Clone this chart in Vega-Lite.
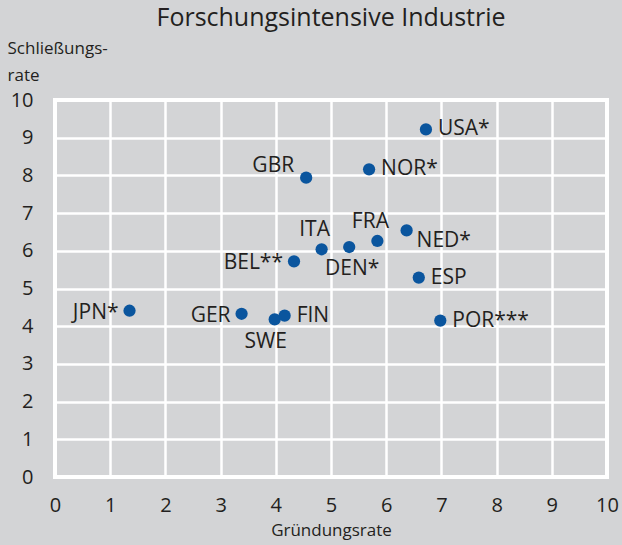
{
  "$schema": "https://vega.github.io/schema/vega-lite/v6.json",
  "autosize": {"type": "none"},
  "padding": {"left": 55, "top": 100, "right": 15, "bottom": 68},
  "width": 552,
  "height": 377,
  "background": "#d3d4d6",
  "title": {"text": "Forschungsintensive Industrie", "font": "Open Sans", "fontSize": 25, "fontWeight": "normal", "color": "#231f20", "anchor": "middle", "frame": "group", "baseline": "alphabetic", "offset": 10, "dy": 22},
  "data": {"values": [
    {"land": "USA*", "gruendung": 6.72, "schliessung": 9.22, "pos": "r"},
    {"land": "NOR*", "gruendung": 5.69, "schliessung": 8.16, "pos": "r"},
    {"land": "GBR", "gruendung": 4.55, "schliessung": 7.94, "pos": "ul"},
    {"land": "ITA", "gruendung": 4.83, "schliessung": 6.04, "pos": "u"},
    {"land": "FRA", "gruendung": 5.84, "schliessung": 6.26, "pos": "u"},
    {"land": "NED*", "gruendung": 6.37, "schliessung": 6.54, "pos": "dr"},
    {"land": "DEN*", "gruendung": 5.33, "schliessung": 6.10, "pos": "d"},
    {"land": "BEL**", "gruendung": 4.33, "schliessung": 5.72, "pos": "l"},
    {"land": "ESP", "gruendung": 6.59, "schliessung": 5.29, "pos": "r"},
    {"land": "JPN*", "gruendung": 1.35, "schliessung": 4.41, "pos": "l"},
    {"land": "GER", "gruendung": 3.38, "schliessung": 4.33, "pos": "l"},
    {"land": "SWE", "gruendung": 3.98, "schliessung": 4.18, "pos": "dl"},
    {"land": "FIN", "gruendung": 4.16, "schliessung": 4.28, "pos": "r"},
    {"land": "POR***", "gruendung": 6.98, "schliessung": 4.15, "pos": "r"}
  ]},
  "encoding": {
    "x": {"field": "gruendung", "type": "quantitative",
      "scale": {"domain": [0, 10], "nice": false},
      "axis": {"values": [0,1,2,3,4,5,6,7,8,9,10], "title": "Gründungsrate", "titleFontSize": 17, "titlePadding": 7, "labelPadding": 18, "labelFlush": false}},
    "y": {"field": "schliessung", "type": "quantitative",
      "scale": {"domain": [0, 10], "nice": false},
      "axis": {"values": [0,1,2,3,4,5,6,7,8,9,10], "title": ["Schließungs-", "rate"], "titleAngle": 0, "titleAlign": "left", "titleBaseline": "alphabetic", "titleX": -48, "titleY": -47, "titleFontSize": 17, "titleLineHeight": 27, "labelPadding": 22, "labelFlush": false}}
  },
  "layer": [
    {"mark": {"type": "circle", "size": 150, "color": "#0a559e", "opacity": 1}},
    {"transform": [{"filter": "datum.pos == 'r'"}], "mark": {"type": "text", "align": "left", "baseline": "middle", "dx": 12, "dy": 0, "fontSize": 21, "color": "#231f20"}, "encoding": {"text": {"field": "land"}}},
    {"transform": [{"filter": "datum.pos == 'l'"}], "mark": {"type": "text", "align": "right", "baseline": "middle", "dx": -11, "dy": 2, "fontSize": 21, "color": "#231f20"}, "encoding": {"text": {"field": "land"}}},
    {"transform": [{"filter": "datum.pos == 'ul'"}], "mark": {"type": "text", "align": "right", "baseline": "middle", "dx": -12, "dy": -12, "fontSize": 21, "color": "#231f20"}, "encoding": {"text": {"field": "land"}}},
    {"transform": [{"filter": "datum.pos == 'u'"}], "mark": {"type": "text", "align": "center", "baseline": "middle", "dx": -7, "dy": -19, "fontSize": 21, "color": "#231f20"}, "encoding": {"text": {"field": "land"}}},
    {"transform": [{"filter": "datum.pos == 'dr'"}], "mark": {"type": "text", "align": "left", "baseline": "middle", "dx": 10, "dy": 11, "fontSize": 21, "color": "#231f20"}, "encoding": {"text": {"field": "land"}}},
    {"transform": [{"filter": "datum.pos == 'd'"}], "mark": {"type": "text", "align": "center", "baseline": "middle", "dx": 3, "dy": 22, "fontSize": 21, "color": "#231f20"}, "encoding": {"text": {"field": "land"}}},
    {"transform": [{"filter": "datum.pos == 'dl'"}], "mark": {"type": "text", "align": "center", "baseline": "middle", "dx": -9, "dy": 23, "fontSize": 21, "color": "#231f20"}, "encoding": {"text": {"field": "land"}}}
  ],
  "config": {
    "font": "Open Sans",
    "view": {"stroke": "white", "strokeWidth": 4},
    "axis": {"grid": true, "gridColor": "white", "gridWidth": 2.5, "gridOpacity": 1, "domain": false, "ticks": false, "tickSize": 0,
      "labelFont": "Open Sans", "labelFontSize": 20, "labelColor": "#231f20",
      "titleFont": "Open Sans", "titleFontWeight": "normal", "titleColor": "#231f20"}
  }
}
